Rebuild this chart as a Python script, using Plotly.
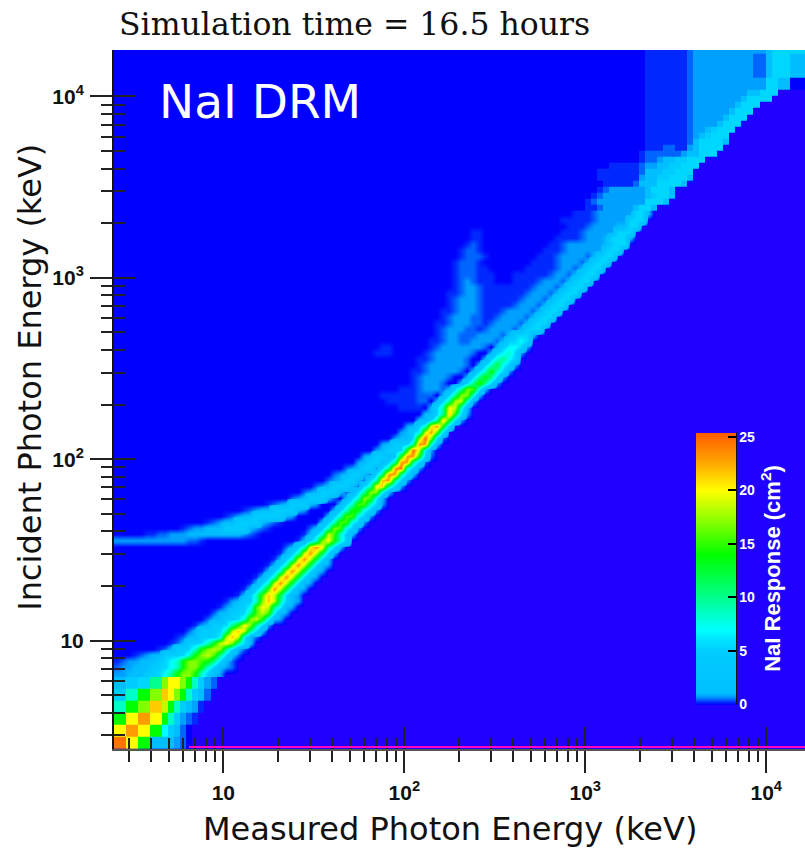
import numpy as np
import plotly.graph_objects as go

TITLE = "Simulation time = 16.5 hours"
PANEL_LABEL = "NaI DRM"
X_TITLE = "Measured Photon Energy (keV)"
Y_TITLE = "Incident Photon Energy (keV)"
CB_TITLE = "<b>NaI Response (cm<sup>2</sup>)</b>"

MAJOR_TICKS = [10, 100, 1000, 10000]
MAJOR_LABELS = ["<b>10</b>", "<b>10<sup>2</sup></b>", "<b>10<sup>3</sup></b>", "<b>10<sup>4</sup></b>"]
MINOR_TICKS = [3, 4, 5, 6, 7, 8, 9,
               20, 30, 40, 50, 60, 70, 80, 90,
               200, 300, 400, 500, 600, 700, 800, 900,
               2000, 3000, 4000, 5000, 6000, 7000, 8000, 9000]
CB_TICKS = [0, 5, 10, 15, 20, 25]

X_LOG_MIN, X_LOG_MAX = 0.396, 4.214
Y_LOG_MIN, Y_LOG_MAX = 0.402, 4.256
BINS_PER_DECADE = 30
N_COLS, N_ROWS = 115, 116
Z_MAX = 25.4
FINE_ROWS = (12, 88)  # the original's bins are very fine over these rows

# response level of each letter used in the read-off table below (cm^2)
LEVELS = {".": 0.03, "a": 0.25, "b": 0.5, "c": 0.8, "d": 1.1, "e": 5, "f": 5.5,
          "g": 7, "h": 8.5, "i": 10, "j": 12, "k": 14, "l": 15.5, "m": 17,
          "n": 18.5, "o": 20, "p": 21.5, "q": 23, "r": 24.5}

COLOR_STOPS = [(0, "rgb(32,0,255)"), (0.03, "rgb(0,0,255)"), (0.25, "rgb(0,40,255)"),
               (0.5, "rgb(0,100,255)"), (0.8, "rgb(0,160,255)"), (1.1, "rgb(0,190,255)"),
               (5, "rgb(0,205,255)"), (6, "rgb(0,225,255)"), (7, "rgb(0,255,255)"),
               (8.5, "rgb(0,255,200)"), (10, "rgb(0,255,140)"), (14, "rgb(0,255,0)"),
               (17, "rgb(130,255,0)"), (20, "rgb(255,255,0)"), (22.5, "rgb(255,170,0)"),
               (25.4, "rgb(255,90,0)")]

# row index -> [(first column, cell letters), ...]
# cells between segments are faint blue; cells past the last segment are empty
ROWS = {
 0: [(0, "rrookkddddcb.")], 1: [(0, "rrookkddddcb.")],
 2: [(0, "ooqqookkgedb.")], 3: [(0, "ooqqookkgedb.")],
 4: [(0, "kkooqqookhecba")], 5: [(0, "kkooqqookhecba")],
 6: [(0, "hhkkmmppnkhedca")], 7: [(0, "hhkkmmppnkhedca")],
 8: [(0, "eehhkkmmpomkhedb")], 9: [(0, "eehhkkmmpomkhedb")],
 10: [(0, "ddeeffiimoomkhecb")], 11: [(0, "ddeeffiimoomkhecb")],
 12: [(0, "ccdddeefgikmmkhedc")],
 13: [(0, "bccdddeefghkmmkhedcb")],
 14: [(0, "abccdddefghkmmlkifdb")],
 15: [(3, "abcddeeefhkmnlifdb")],
 16: [(7, "abdeefhkmnmifdb")],
 17: [(9, "abdeefhknomifd")],
 18: [(10, "abddeeegnpngdb")],
 19: [(12, "bdeeefinpnifd")],
 20: [(13, "acdeefikomifc")],
 21: [(15, "bddeefhmnkgdc")],
 22: [(16, "bddeefilnlgdc")],
 23: [(17, "acdeeglonigdc")],
 24: [(18, "acdeehmpniedc")],
 25: [(20, "adehlpnjfdc")],
 26: [(21, "adehlqnjfdc")],
 27: [(22, "adehnqnjfdc")],
 28: [(23, "adehnqnjfdc")],
 29: [(24, "adehnqnjfdc")],
 30: [(25, "adehnqnjfdc")],
 31: [(26, "adehnqnjfd")],
 32: [(27, "adehnqnjfd")],
 33: [(28, "bdehoqoifd")],
 34: [(0, "ccccccccccccbba"), (30, "adehmokhe")],
 35: [(5, "aabbcccdddddddddcba"), (31, "adehnlhed")],
 36: [(11, "abccdddeeeedcba"), (32, "bdehmlgec")],
 37: [(15, "abcddeeeedcba"), (34, "dehllgec")],
 38: [(18, "abcddeeeeedc"), (35, "dehllgec")],
 39: [(21, "abcddeeeedc"), (36, "dehkkgec")],
 40: [(25, "abcdeeedc"), (37, "dfhllhec")],
 41: [(29, "bcdeeedb"), (38, "dfhmlgd")],
 42: [(31, "bcdeeedb"), (39, "dfimmgd")],
 43: [(33, "bcdeeedb"), (41, "fhopiec")],
 44: [(35, "bcdeedb"), (42, "fhpqiec")],
 45: [(36, "bcdeedb"), (43, "fiqqied")],
 46: [(38, "bcdeeb"), (44, "fiqrhec")],
 47: [(40, "cdeed"), (45, "eiqqieb")],
 48: [(41, "cdeed"), (46, "ekqqkeb")],
 49: [(43, "cdee"), (47, "ekrngc")],
 50: [(44, "cdee"), (48, "eiqqhd")],
 51: [(46, "cdd"), (49, "fmrmfb")],
 52: [(47, "cde"), (50, "gnqlf")],
 53: [(48, "cde"), (51, "hoqke")],
 54: [(50, "ddfipkfc")],
 55: [(51, "ddfipkfc")],
 56: [(47, "aaaa"), (52, "dfionhd")],
 57: [(45, "aaaaabb"), (53, "dfinnhd")],
 58: [(44, "aaaaaabbb"), (54, "dfimmhd")],
 59: [(47, "aaabcccb"), (55, "dfimlgd")],
 60: [(49, "abcccb"), (57, "dfilifc")],
 61: [(49, "abccccb"), (58, "dfikifc")],
 62: [(49, "aabcccccb"), (59, "dfhkhfc")],
 63: [(50, "abccccccb"), (60, "dfhjgec")],
 64: [(50, "aabcccccb"), (61, "dfhige")],
 65: [(43, "aaa"), (51, "abccccccb"), (62, "dfghfc")],
 66: [(44, "aa"), (52, "abcccccccb"), (63, "deggfc")],
 67: [(52, "aabccbbccccb"), (64, "defgf")],
 68: [(53, "abccbbbccccb"), (65, "deffd")],
 69: [(53, "abcccbbabccccb"), (67, "deff")],
 70: [(53, "aabcccbbabccccb"), (68, "deff")],
 71: [(54, "abcccbbaabccccb"), (69, "deff")],
 72: [(54, "aabcccbaaabccccb"), (70, "deff")],
 73: [(55, "abcccbaaaaabcccb"), (71, "deff")],
 74: [(55, "abcccbaaaaaabcccb"), (72, "deff")],
 75: [(55, "aabccbaaaaaaabcccb"), (73, "deff")],
 76: [(56, "abccbaaaaaaaabcccb"), (74, "deff")],
 77: [(56, "abcbaaa...aaaabcccb"), (75, "deff")],
 78: [(56, "abbbaaa...aaaaaabccb"), (76, "deff")],
 79: [(56, "abbbaa......aaaaabccb"), (77, "deff")],
 80: [(56, "abbba"), (69, "aaaabcccb"), (78, "deff")],
 81: [(57, "abbba"), (70, "aaabccccb"), (79, "deff")],
 82: [(57, "abba"), (71, "aaabcccccc"), (81, "eff")],
 83: [(58, "aba"), (72, "aabcccccc"), (81, "deff")],
 84: [(59, "aa"), (73, "aaaabcccd"), (82, "fffd")],
 85: [(59, "aa"), (74, "aaabccccc"), (83, "fff")],
 86: [(75, "aaabccccdd"), (85, "ff")],
 87: [(74, "aaaaabccccc"), (85, "fff")],
 88: [(76, "aaabcccccc"), (86, "ffd")],
 89: [(78, "aabcccccd"), (87, "ffd")],
 90: [(78, "abcccccccc"), (88, "fffd")],
 91: [(79, "abccccccc"), (88, "deffd")],
 92: [(80, "abcccccc"), (88, "dfffd")],
 93: [(81, "aaaaab"), (87, "dddffffd")],
 94: [(80, "aaaaaaa"), (87, "cddeefffd")],
 95: [(80, "aaaaaaab"), (88, "dddeefff")],
 96: [(82, "aaaaab"), (88, "ccddeefff")],
 97: [(87, "abbcddeefff")],
 98: [(87, "abbbbbbcddfff")],
 99: [(88, "aaabbaacdffff")],
 100: [(88, "aaaaaaab"), (96, "dffffd")],
 101: [(88, "aaaaaaab"), (96, "cdefff")],
 102: [(88, "aaaaaaab"), (96, "ccdefff")],
 103: [(88, "aaaaaaab"), (96, "ccccdfff")],
 104: [(88, "aaaaaaab"), (96, "cccccdfff")],
 105: [(88, "aaaaaaab"), (96, "ccccccdfff")],
 106: [(88, "aaaaaaab"), (96, "cccccccdfff")],
 107: [(88, "aaaaaaab"), (96, "ccccccccdffff")],
 108: [(88, "aaaaaaab"), (96, "cccccccccddfff")],
 109: [(88, "aaaaaaab"), (96, "cccccccccccc"), (108, "ffdd"), (112, "...")],
 110: [(88, "aaaaaaab"), (96, "cccccccccccc"), (108, "ffdd"), (112, "...")],
 111: [(88, "aaaaaaab"), (96, "cccccccccc"), (106, "bb"), (108, "dfffddd")],
 112: [(88, "aaaaaaab"), (96, "cccccccccc"), (106, "bb"), (108, "dfffddd")],
 113: [(88, "aaaaaaab"), (96, "cccccccccc"), (106, "bb"), (108, "dfffddd")],
 114: [(88, "aaaaaaab"), (96, "cccccccccc"), (106, "bb"), (108, "dfffddd")],
 115: [(88, "aaaaaaab"), (96, "cccccccccccc"), (108, "dffffff")],
}

z = np.zeros((N_ROWS, N_COLS))
for row, segments in ROWS.items():
    last = segments[-1][0] + len(segments[-1][1])
    z[row, :last] = LEVELS["."]
    for start, letters in segments:
        for k, ch in enumerate(letters):
            if start + k < N_COLS:
                z[row, start + k] = LEVELS[ch]

x_edges = 10 ** (X_LOG_MIN + np.arange(N_COLS + 1) / BINS_PER_DECADE)
y_edges = 10 ** (Y_LOG_MIN + np.arange(N_ROWS + 1) / BINS_PER_DECADE)
colorscale = [[v / Z_MAX, c] for v, c in COLOR_STOPS]

fig = go.Figure()
fig.add_trace(go.Heatmap(
    x=x_edges, y=y_edges, z=z, zmin=0, zmax=Z_MAX, colorscale=colorscale,
    hoverinfo="skip",
    colorbar=dict(
        x=(696 - 114) / 691, xanchor="left", xpad=0,
        y=(749.5 - 705) / 699.5, yanchor="bottom", ypad=0,
        thickness=40, thicknessmode="pixels", len=272, lenmode="pixels",
        outlinewidth=0, ticks="inside", ticklen=8, tickwidth=2, tickcolor="black",
        tickmode="array", tickvals=CB_TICKS,
        ticktext=["<b>%d</b>" % t for t in CB_TICKS],
        tickfont=dict(family="Liberation Sans", size=14, color="white"),
        title=dict(text=CB_TITLE, side="right",
                   font=dict(family="Liberation Sans", size=22, color="white")),
    ),
))
# the finely binned middle rows are drawn again with the browser's smoothing
lo, hi = FINE_ROWS
fig.add_trace(go.Heatmap(
    x=x_edges, y=y_edges[lo:hi + 2], z=z[lo:hi + 1], zmin=0, zmax=Z_MAX,
    colorscale=colorscale, showscale=False, zsmooth="best", hoverinfo="skip",
))
# second pair of axes: carries the half of each tick that lies inside the frame
fig.add_trace(go.Scatter(x=[10], y=[10], xaxis="x2", yaxis="y2", mode="none",
                         hoverinfo="skip", showlegend=False))

label_font = dict(family="Liberation Sans", size=21, color="#111")
title_font = dict(family="DejaVu Sans", size=32, color="#111")


def outer_axis(log_range, line_color):
    return dict(
        type="log", range=log_range, showgrid=False, zeroline=False,
        showline=True, linecolor=line_color, linewidth=2,
        ticks="outside", ticklen=22, tickwidth=1.5, tickcolor="#222",
        tickmode="array", tickvals=MAJOR_TICKS, ticktext=MAJOR_LABELS,
        tickfont=label_font, tickangle=0, ticklabelstandoff=2,
        minor=dict(ticks="outside", ticklen=11, tickwidth=1.5, tickcolor="#222",
                   tickmode="array", tickvals=MINOR_TICKS, showgrid=False),
    )


def inner_axis(log_range, over, anchor, side):
    return dict(
        type="log", range=log_range, overlaying=over, anchor=anchor, side=side,
        showgrid=False, zeroline=False, showline=False, showticklabels=False,
        ticks="inside", ticklen=22, tickwidth=1.5, tickcolor="#222",
        tickmode="array", tickvals=MAJOR_TICKS,
        minor=dict(ticks="inside", ticklen=11, tickwidth=1.5, tickcolor="#222",
                   tickmode="array", tickvals=MINOR_TICKS, showgrid=False),
    )


fig.update_layout(
    width=805, height=849,
    margin=dict(l=114, r=0, t=50, b=99.5, pad=0),
    paper_bgcolor="white", plot_bgcolor="rgb(32,0,255)", showlegend=False,
    title=dict(text=TITLE, x=119 / 805, xanchor="left", xref="container",
               y=1 - 24 / 849, yanchor="middle",
               font=dict(family="DejaVu Serif", size=31.5, color="#111")),
    xaxis=outer_axis([X_LOG_MIN, X_LOG_MAX], "#555"),
    yaxis=outer_axis([Y_LOG_MIN, Y_LOG_MAX], "#111"),
    xaxis2=inner_axis([X_LOG_MIN, X_LOG_MAX], "x", "y2", "bottom"),
    yaxis2=inner_axis([Y_LOG_MIN, Y_LOG_MAX], "y", "x2", "left"),
    annotations=[
        dict(text=PANEL_LABEL, xref="paper", yref="paper",
             x=(157 - 114) / 691, y=(749.5 - 102) / 699.5,
             xanchor="left", yanchor="middle", showarrow=False,
             font=dict(family="DejaVu Sans", size=47, color="white")),
        dict(text=X_TITLE, xref="paper", yref="paper",
             x=(449.5 - 114) / 691, y=(749.5 - 830) / 699.5,
             xanchor="center", yanchor="middle", showarrow=False, font=title_font),
        dict(text=Y_TITLE, xref="paper", yref="paper", textangle=-90,
             x=(30 - 114) / 691, y=(749.5 - 378) / 699.5,
             xanchor="center", yanchor="middle", showarrow=False, font=title_font),
    ],
    shapes=[
        dict(type="line", xref="paper", yref="paper", layer="above",
             x0=(189 - 114) / 691, x1=1, y0=0.003, y1=0.003,
             line=dict(color="rgb(255,0,200)", width=2)),
        dict(type="line", xref="paper", yref="paper", layer="above",
             x0=(736 - 114) / 691, x1=(736 - 114) / 691,
             y0=(749.5 - 705) / 699.5, y1=(749.5 - 433) / 699.5,
             line=dict(color="#111", width=2)),
    ],
)
fig.write_html("out.html", config={"displayModeBar": False},
               post_script="document.body.style.margin='0';document.body.style.overflow='hidden';")
